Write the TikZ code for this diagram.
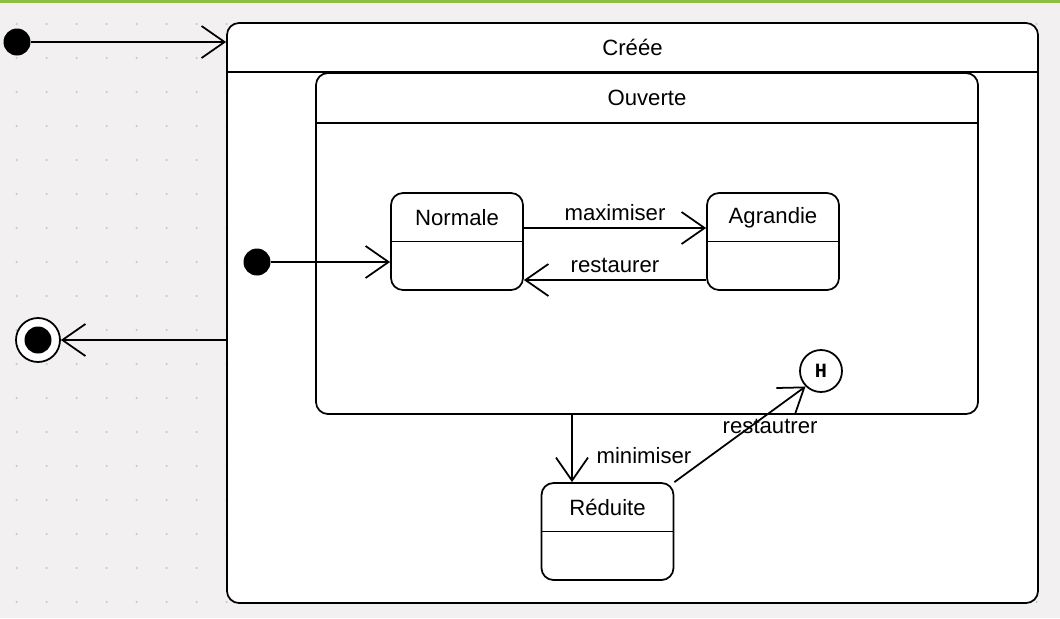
\documentclass[tikz,border=0pt]{standalone}
\usepackage{fontspec}
\setmainfont{Liberation Sans}
\newfontfamily\histfont{Liberation Mono}
\usetikzlibrary{arrows.meta}
\definecolor{bgc}{HTML}{F2F0F0}
\definecolor{dotc}{HTML}{CDCACA}
\definecolor{topg}{HTML}{8DBE45}
\tikzset{
	trans/.style={line width=1pt, -{Straight Barb[length=4.6mm,width=6.4mm,line width=1pt]}},
	compbox/.style={draw, line width=1pt, rounded corners=2.4mm, fill=white, inner sep=0},
	statebox/.style={compbox, minimum width=26.4mm, minimum height=19.4mm},
	lbl/.style={font=\fontsize{12.6}{15}\selectfont, inner sep=1pt},
	initdot/.style={circle, fill=black, minimum size=5.4mm, inner sep=0},
}

\begin{document}
\begin{tikzpicture}[x=0.2mm, y=-0.2mm]
	\useasboundingbox (0,0) rectangle (1060,618);
	\fill[bgc] (0,0) rectangle (1060,618);
	\fill[topg] (0,0) rectangle (1060,3);
	% grid dots
	\foreach \i in {0,...,34}
	\foreach \j in {0,...,17}
	\fill[dotc] (16.7+30*\i,24+34*\j) circle (0.25mm);
	% composite states
	\node[compbox, minimum width=162.2mm, minimum height=116mm] (cree) at (632.5,313) {};
	\draw[line width=1pt] (cree.west |- 0,72) -- (cree.east |- 0,72);
	\node[lbl] (cree-t) at (cree.north |- 0,47) {Créée};
	\node[compbox, minimum width=132.4mm, minimum height=68.2mm] (ouverte) at (647,243.5) {};
	\draw[line width=1pt] (ouverte.west |- 0,123) -- (ouverte.east |- 0,123);
	\node[lbl] (ouverte-t) at (ouverte.north |- 0,98) {Ouverte};
	% simple states
	\foreach \nm/\cx/\cy/\txt in {normale/457/241.5/Normale, agrandie/773/241.5/Agrandie, reduite/607.5/531.5/Réduite}{
		\node[statebox] (\nm) at (\cx,\cy) {};
		\draw[line width=1pt] (\nm.west) -- (\nm.east);
		\node[lbl] (\nm-t) at (\cx,\cy-24) {\txt};
	}
	\node[circle, draw, fill=white, line width=1pt, minimum size=8.4mm, inner sep=0,
		font=\histfont\bfseries\fontsize{11.5}{13}\selectfont] (hist) at (821,371) {H};
	% pseudo states
	\node[initdot] (start) at (17,42) {};
	\node[initdot] (init) at (257,262) {};
	\node[circle, draw, fill=white, line width=1pt, minimum size=8.8mm, inner sep=0] (fin) at (38,340) {};
	\fill[black] (fin.center) circle (2.7mm);
	% transitions
	\draw[trans] (start) -- (start -| cree.west);
	\draw[trans] (fin -| cree.west) -- (fin);
	\draw[trans] (init) -- (init -| normale.west);
	\draw[trans] (normale.east |- 0,228) -- (agrandie.west |- 0,228)
		node[lbl, midway, above=1mm] (maxl) {maximiser};
	\draw[trans] (agrandie.west |- 0,280) -- (normale.east |- 0,280)
		node[lbl, midway, above=1mm] (restl) {restaurer};
	\draw[trans] (ouverte.south -| 572,0) -- (reduite.north -| 572,0)
		node[lbl, pos=0.6, right=4.4mm] (minl) {minimiser};
	\draw[trans] (reduite.north east) -- (hist.south west)
		node[lbl, pos=0.73, yshift=-2.8mm] (restl2) {restautrer};
\end{tikzpicture}
\end{document}
